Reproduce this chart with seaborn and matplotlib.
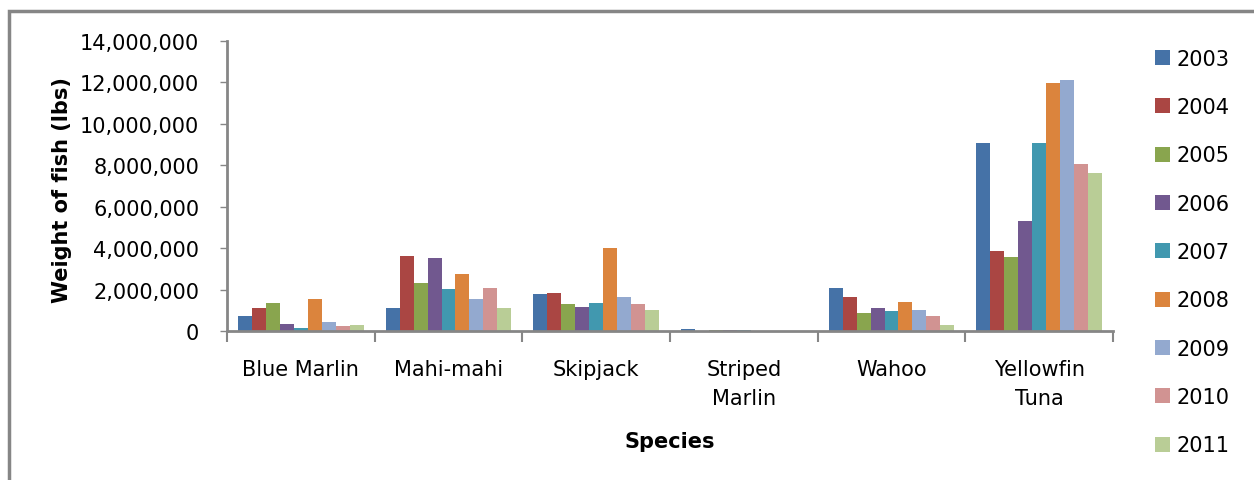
import matplotlib
matplotlib.use("Agg")
import matplotlib.pyplot as plt
import matplotlib.ticker as mticker
from matplotlib.patches import Rectangle, Patch
import pandas as pd
import seaborn as sns

species = ["Blue Marlin", "Mahi-mahi", "Skipjack", "Striped\nMarlin", "Wahoo", "Yellowfin\nTuna"]
years = ["2003", "2004", "2005", "2006", "2007", "2008", "2009", "2010", "2011"]

# weight in lbs, one list per year (order follows species)
w2003 = [740000, 1120000, 1800000, 110000, 2070000, 9060000]
w2004 = [1120000, 3630000, 1850000, 20000, 1640000, 3860000]
w2005 = [1370000, 2330000, 1320000, 50000, 870000, 3570000]
w2006 = [350000, 3530000, 1170000, 50000, 1110000, 5300000]
w2007 = [160000, 2040000, 1370000, 50000, 960000, 9060000]
w2008 = [1560000, 2760000, 4020000, 10000, 1400000, 11950000]
w2009 = [450000, 1560000, 1650000, 10000, 1010000, 12140000]
w2010 = [260000, 2090000, 1320000, 5000, 720000, 8050000]
w2011 = [310000, 1120000, 1030000, 5000, 290000, 7610000]

colors = ["#4572A7", "#AA4643", "#89A54E", "#71588F", "#4198AF",
          "#DB843D", "#93A9CF", "#D19392", "#B9CD96"]

series = [w2003, w2004, w2005, w2006, w2007, w2008, w2009, w2010, w2011]
rows = []
for yr, vals in zip(years, series):
    for sp, v in zip(species, vals):
        rows.append({"species": sp, "year": yr, "weight": v})
df = pd.DataFrame(rows)

sns.set_style("white")
plt.rcParams["font.family"] = ["DejaVu Sans"]
plt.rcParams["text.color"] = "black"
plt.rcParams["xtick.color"] = "black"
plt.rcParams["ytick.color"] = "black"

W, H = 1254, 481
fig = plt.figure(figsize=(W / 100, H / 100), dpi=100)
ax = fig.add_axes([227 / W, (H - 332) / H, (1113 - 227) / W, (332 - 42) / H])

sns.barplot(data=df, x="species", y="weight", hue="year", order=species,
            hue_order=years, palette=colors, saturation=1, width=0.85,
            errorbar=None, ax=ax, legend=False, linewidth=0)

grey = "#868686"
ax.set_ylim(0, 14000000)
ax.set_xlim(-0.5, len(species) - 0.5)
ax.yaxis.set_major_locator(mticker.MultipleLocator(2000000))
ax.yaxis.set_major_formatter(mticker.FuncFormatter(lambda v, p: f"{int(v):,}"))
for s in ["top", "right"]:
    ax.spines[s].set_visible(False)
for s in ["left", "bottom"]:
    ax.spines[s].set_color(grey)
    ax.spines[s].set_linewidth(2)

ax.tick_params(axis="y", which="major", length=5, width=1, color=grey,
               labelcolor="black", direction="out", left=True, labelsize=15, pad=15)
ax.tick_params(axis="x", which="major", length=0, labelsize=15, pad=20,
               labelcolor="black")
for lbl in ax.get_xticklabels():
    lbl.set_linespacing(1.6)
ax.set_xticks([i - 0.5 for i in range(len(species) + 1)], minor=True)
ax.tick_params(axis="x", which="minor", length=8, width=1.5, color=grey,
               direction="out", bottom=True)
ax.set_xlabel("Species", fontsize=15, fontweight="bold", labelpad=16, color="black")
ax.set_ylabel("")
fig.text(62 / W, 1 - 190 / H, "Weight of fish (lbs)", rotation=90,
         ha="center", va="center", fontsize=15, fontweight="bold", color="black")

handles = [Patch(facecolor=c, edgecolor="none") for c in colors]
fig.legend(handles, years, loc="upper left", bbox_to_anchor=(1136 / W, 1 - 31 / H),
           frameon=False, fontsize=15, handlelength=0.75, handleheight=0.75,
           handletextpad=0.3, labelspacing=1.36, labelcolor="black")

fig.patches.append(Rectangle((9 / W, -0.1), 1.2, (H - 12) / H + 0.1,
                             transform=fig.transFigure, fill=False,
                             edgecolor=grey, linewidth=2.5))

fig.savefig("out.png", dpi=100)
